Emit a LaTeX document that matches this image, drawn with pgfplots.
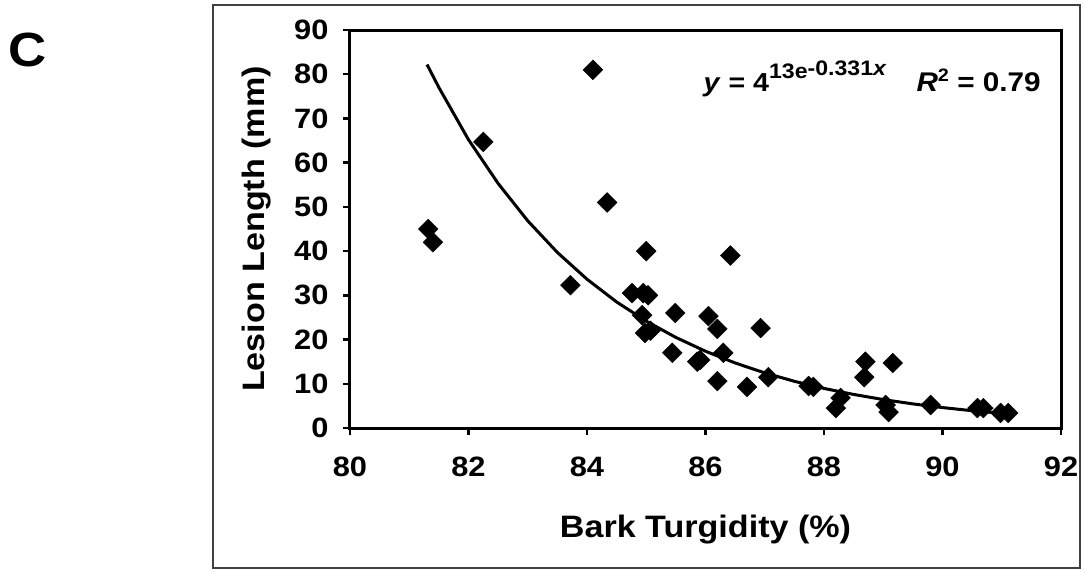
\documentclass[border=0pt]{standalone}
\usepackage{fontspec}
\setmainfont{Liberation Sans}[FakeStretch=1.1]
\usepackage{pgfplots}
\pgfplotsset{compat=1.18}

\begin{document}
\begin{tikzpicture}[x=1pt,y=1pt]
\useasboundingbox (-350,-143) rectangle (737,428);
\draw[line width=1.5pt,black!75] (-137,-140) rectangle (730,423);
\node[font=\fontsize{48}{56}\selectfont\bfseries] at (-322,378) {C};
\begin{axis}[
  at={(0,0)}, anchor=south west,
  scale only axis, width=711pt, height=398pt,
  xmin=80, xmax=92, ymin=0, ymax=90,
  xtick={80,82,...,92}, ytick={0,10,...,90},
  axis line style={line width=3pt},
  tick style={line width=2.5pt,black},
  tick align=outside, major tick length=7pt, tick pos=left,
  ticklabel style={font=\fontsize{28}{32}\selectfont\bfseries},
  xticklabel style={yshift=-18pt},
  yticklabel style={xshift=-11pt},
  /pgf/number format/assume math mode=true,
  xlabel={Bark Turgidity (\%)},
  ylabel={Lesion Length (mm)},
  label style={font=\fontsize{31}{36}\selectfont\bfseries},
  xlabel style={at={(axis description cs:0.5,-0.274)},anchor=base},
  ylabel style={at={(axis description cs:-0.132,0.5)},anchor=center},
]
% observed points
\addplot[only marks, mark=square*, mark size=7pt, mark options={rotate=45,black}] coordinates {
(81.32,45) (81.40,42) (82.25,64.7) (84.10,81) (84.34,51) (83.72,32.3)
(85.00,40) (84.76,30.5) (84.95,30.5) (85.03,30) (84.93,25.5) (85.07,22)
(84.98,21.5) (85.49,26) (85.44,17) (85.86,15) (86.42,39) (86.05,25.3)
(86.20,22.4) (86.30,17) (85.91,15.4) (86.20,10.6) (86.93,22.6) (86.70,9.3)
(87.06,11.5) (87.74,9.5) (87.82,9.3) (88.28,6.8) (88.20,4.5) (88.70,15)
(88.68,11.5) (89.16,14.7) (89.04,5.2) (89.09,3.6) (89.80,5.2) (90.59,4.5)
(90.69,4.5) (90.98,3.4) (91.11,3.4)
};
% exponential trend line
\addplot[black, line width=3pt, no marks] coordinates {
(81.3,82.2) (81.5,77.0) (82,65.2) (82.5,55.3) (83,46.85) (83.5,39.7)
(84,33.65) (84.5,28.5) (85,24.16) (85.5,20.48) (86,17.36) (86.5,14.71)
(87,12.47) (87.5,10.56) (88,8.95) (88.5,7.59) (89,6.43) (89.5,5.45)
(90,4.62) (90.5,3.91) (91,3.32) (91.1,3.21)
};
\end{axis}
\node[anchor=base west,font=\fontsize{26}{30}\selectfont\bfseries] at (350,336)
  {\textit{y} = 4\raisebox{13pt}{\fontsize{21}{26}\selectfont 13e\raisebox{3pt}{-0.331\textit{x}}}};
\node[anchor=base west,font=\fontsize{27}{30}\selectfont\bfseries] at (563,336)
  {\textit{R}\raisebox{10pt}{\fontsize{18}{20}\selectfont 2} = 0.79};
\end{tikzpicture}
\end{document}
